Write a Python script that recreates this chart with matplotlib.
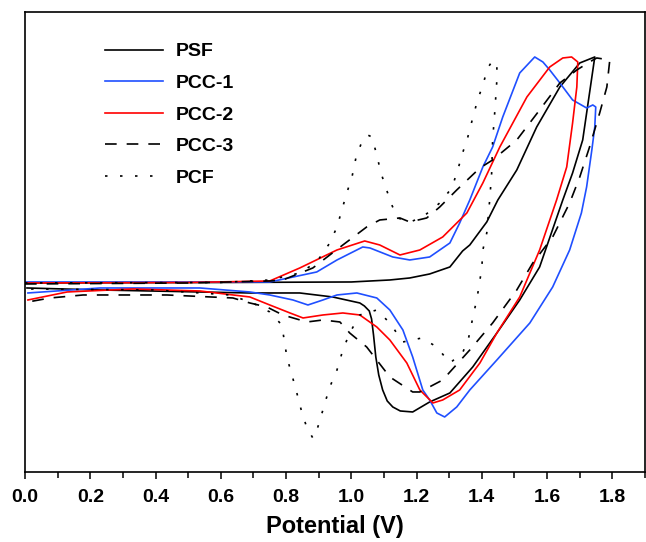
import numpy as np
import matplotlib
matplotlib.use("Agg")
import matplotlib.pyplot as plt
from matplotlib.ticker import MultipleLocator

plt.rcParams['font.family'] = ['Liberation Sans', 'DejaVu Sans']
plt.rcParams['font.weight'] = 'bold'

# potential (V) / current (arb. units), forward scan then reverse scan
psf_v = [0.0, 0.6, 1.0, 1.118, 1.179, 1.240, 1.302, 1.341, 1.363, 1.415, 1.449, 1.507, 1.568,
         1.639, 1.700, 1.746,
         1.709, 1.678, 1.648, 1.577, 1.516, 1.446, 1.372, 1.302, 1.240, 1.188, 1.150, 1.127,
         1.110, 1.096, 1.084, 1.075, 1.068, 1.062, 1.055, 1.040, 1.026, 0.943, 0.842, 0.689,
         0.536, 0.230, 0.006]
psf_i = [0.0, 0.05, 0.1, 0.3, 0.5, 0.9, 1.6, 3.2, 3.8, 6.1, 8.3, 11.3, 15.6,
         19.6, 22.0, 22.6,
         14.3, 11.0, 8.3, 1.6, -1.7, -5.0, -8.4, -11.0, -11.9, -12.9, -12.8, -12.4,
         -11.8, -10.7, -9.2, -7.4, -5.2, -3.6, -2.8, -2.3, -2.0, -1.4, -1.0, -1.0,
         -0.9, -0.7, -0.5]

pcc1_v = [0.0, 0.5, 0.75, 0.894, 0.956, 1.035, 1.057, 1.127, 1.179, 1.240, 1.302, 1.332, 1.363,
          1.403, 1.433, 1.464, 1.516, 1.562, 1.587, 1.608, 1.639, 1.678, 1.721, 1.740, 1.749,
          1.746, 1.737, 1.721, 1.705, 1.669, 1.617, 1.547, 1.446, 1.363, 1.323, 1.286, 1.262,
          1.240, 1.219, 1.188, 1.158, 1.118, 1.078, 1.017, 0.956, 0.913, 0.867, 0.821, 0.750,
          0.689, 0.536, 0.230, 0.009]
pcc1_i = [0.1, 0.1, 0.1, 1.1, 2.3, 3.6, 3.5, 2.6, 2.3, 2.6, 4.0, 6.0, 8.3,
          11.6, 13.6, 16.6, 21.0, 22.6, 22.1, 21.3, 20.0, 18.3, 17.5, 17.8, 17.6,
          15.6, 13.3, 9.6, 7.0, 3.3, -0.4, -4.0, -7.7, -10.7, -12.4, -13.4, -13.0,
          -11.7, -10.7, -7.4, -4.7, -2.7, -1.5, -1.0, -1.2, -1.7, -2.2, -1.7, -1.2,
          -0.9, -0.5, -0.5, -1.0]

pcc2_v = [0.0, 0.5, 0.75, 0.842, 0.956, 1.041, 1.087, 1.149, 1.210, 1.280, 1.354, 1.403, 1.455,
          1.538, 1.608, 1.648, 1.675, 1.694,
          1.691, 1.678, 1.660, 1.629, 1.577, 1.516, 1.446, 1.394, 1.332, 1.280, 1.250, 1.210,
          1.170, 1.118, 1.078, 1.026, 0.974, 0.913, 0.852, 0.812, 0.750, 0.689, 0.536, 0.331,
          0.129, 0.009]
pcc2_i = [0.0, 0.05, 0.2, 1.5, 3.3, 4.2, 3.8, 2.8, 3.3, 4.6, 7.0, 10.0, 13.6,
          18.6, 21.6, 22.5, 22.6, 22.1,
          19.6, 16.0, 11.6, 8.3, 3.3, -1.4, -5.0, -8.0, -10.7, -11.7, -12.0, -10.7,
          -8.0, -5.7, -4.4, -3.2, -3.0, -3.2, -3.5, -3.0, -2.2, -1.4, -0.8, -0.6,
          -0.9, -1.7]

pcc3_v = [0.0, 0.5, 0.75, 0.790, 0.882, 0.974, 1.047, 1.087, 1.149, 1.179, 1.231, 1.271, 1.323,
          1.394, 1.433, 1.507, 1.577, 1.639, 1.691, 1.730, 1.752, 1.792,
          1.783, 1.761, 1.730, 1.700, 1.669, 1.617, 1.556, 1.507, 1.433, 1.363, 1.280, 1.210,
          1.188, 1.118, 1.047, 0.995, 0.965, 0.913, 0.864, 0.790, 0.741, 0.689, 0.637, 0.435,
          0.178, 0.077, 0.009]
pcc3_i = [-0.1, 0.0, 0.2, 0.3, 1.5, 3.8, 5.6, 6.3, 6.5, 6.1, 6.5, 7.6, 9.3,
          11.5, 12.3, 14.3, 17.3, 20.0, 21.3, 22.1, 22.5, 22.3,
          19.6, 17.0, 13.6, 10.6, 8.0, 4.6, 2.0, -0.7, -4.0, -6.7, -9.7, -10.9,
          -10.9, -9.4, -6.4, -5.0, -3.9, -3.7, -3.9, -3.2, -2.4, -2.0, -1.5, -1.2,
          -1.2, -1.5, -1.9]

pcf_v = [0.0, 0.6, 0.75, 0.842, 0.894, 0.934, 0.956, 0.971, 0.986, 1.002, 1.014, 1.032, 1.050,
         1.063, 1.078, 1.090, 1.106, 1.124, 1.142, 1.180, 1.219, 1.271, 1.308, 1.326, 1.341,
         1.357, 1.372, 1.387, 1.403, 1.418, 1.430, 1.446,
         1.446, 1.440, 1.433, 1.430, 1.424, 1.415, 1.403, 1.400, 1.391, 1.384, 1.372, 1.360,
         1.341, 1.302, 1.262, 1.216, 1.158, 1.118, 1.078, 1.026, 0.995, 0.974, 0.956, 0.934,
         0.919, 0.904, 0.888, 0.882, 0.864, 0.848, 0.833, 0.818, 0.803, 0.787, 0.750, 0.698,
         0.628, 0.4, 0.009]
pcf_i = [0.0, 0.05, 0.3, 1.0, 2.1, 4.0, 5.6, 7.3, 9.0, 10.6, 12.5, 14.1, 14.8,
         14.6, 12.8, 11.1, 9.5, 7.8, 6.5, 6.1, 6.6, 8.0, 9.5, 11.3, 13.0,
         14.6, 16.5, 18.3, 19.8, 21.5, 22.1, 22.1,
         20.3, 17.3, 14.3, 11.0, 8.3, 5.0, 3.3, 1.6, -0.4, -1.7, -3.5, -5.4,
         -7.0, -8.0, -6.4, -5.5, -5.9, -4.0, -2.7, -3.2, -5.0, -6.7, -8.7, -10.4,
         -12.0, -13.7, -15.4, -15.5, -14.5, -12.9, -11.0, -9.2, -7.5, -4.2, -2.9, -2.0,
         -1.2, -0.7, -0.6]

labels = ['PSF', 'PCC-1', 'PCC-2', 'PCC-3', 'PCF']

fig = plt.figure(figsize=(6.46, 5.42), dpi=100)
ax = fig.add_axes([0.0387, 0.1292, 0.9598, 0.8487])

lw = 1.2
ax.plot(psf_v, psf_i, color='black', lw=lw, label=labels[0])
ax.plot(pcc1_v, pcc1_i, color='#1f4fff', lw=lw, label=labels[1])
ax.plot(pcc2_v, pcc2_i, color='#ff0000', lw=lw, label=labels[2])
ax.plot(pcc3_v, pcc3_i, color='black', lw=lw, dashes=(7, 6), label=labels[3])
ax.plot(pcf_v, pcf_i, color='black', lw=lw, dashes=(1.5, 7.5), label=labels[4])

ax.set_xlim(0, 1.9)
ax.set_ylim(-18.9, 27.1)
ax.xaxis.set_minor_locator(MultipleLocator(0.1))
ax.set_xticks(np.arange(0, 1.81, 0.2))
ax.set_xticklabels(['%.1f' % t for t in np.arange(0, 1.81, 0.2)])
ax.set_yticks([])
ax.tick_params(axis='x', which='major', direction='out', length=5, width=1.1,
               labelsize=14, pad=7)
ax.tick_params(axis='x', which='minor', direction='out', length=4, width=1.1)
for t in ax.get_xticklabels():
    t.set_fontweight('bold')
for s in ax.spines.values():
    s.set_linewidth(1.2)

ax.set_xlabel('Potential (V)', fontsize=17, fontweight='bold', labelpad=7)

leg = ax.legend(loc='upper left', bbox_to_anchor=(0.129, 0.933), frameon=False,
                borderpad=0, borderaxespad=0, handlelength=3.0, handletextpad=0.65,
                labelspacing=0.72, prop={'size': 14, 'weight': 'bold'})

fig.savefig('out.png', dpi=100)
